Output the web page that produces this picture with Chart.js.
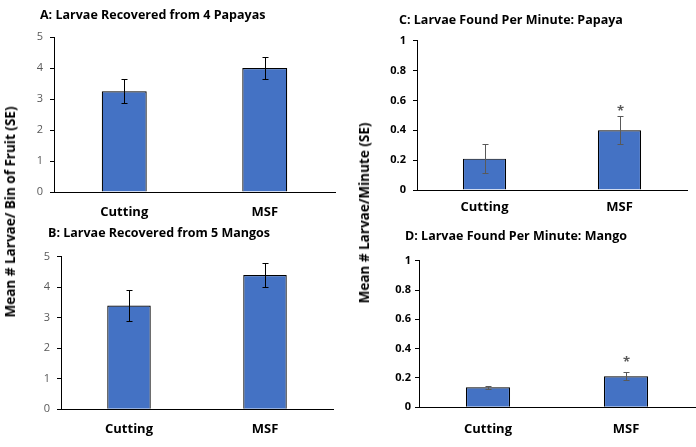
<!DOCTYPE html>
<html>
<head>
<meta charset="utf-8">
<script src="https://cdn.jsdelivr.net/npm/chart.js@4"></script>
<style>
  body { margin: 0; background: #fff; width: 696px; height: 447px; position: relative; overflow: hidden; font-family: "Open Sans", sans-serif; }
  canvas { position: absolute; }
  .ytitle { position: absolute; font-weight: bold; font-size: 13.5px; color: #000; white-space: nowrap; transform: translate(-50%, -50%) rotate(-90deg); }
</style>
</head>
<body>
<canvas id="chartA" width="348" height="222" style="left:0;top:0"></canvas>
<canvas id="chartB" width="348" height="225" style="left:0;top:222px"></canvas>
<canvas id="chartC" width="348" height="222" style="left:348px;top:0"></canvas>
<canvas id="chartD" width="348" height="225" style="left:348px;top:222px"></canvas>
<div class="ytitle" style="left:10px;top:212px">Mean # Larvae/ Bin of Fruit (SE)</div>
<div class="ytitle" style="left:364px;top:213px">Mean # Larvae/Minute (SE)</div>
<script>
// categorias y valores
const categories = ['Cutting', 'MSF'];

const papayaCounts = [3.25, 4.0];
const papayaCountsSE = [0.38, 0.37];

const mangoCounts = [3.4, 4.4];
const mangoCountsSE = [0.5, 0.4];

const papayaRate = [0.21, 0.40];
const papayaRateSE = [0.097, 0.093];
const papayaRateSig = ['', '*'];

const mangoRate = [0.136, 0.211];
const mangoRateSE = [0.012, 0.027];
const mangoRateSig = ['', '*'];

const FONT = '"Open Sans", sans-serif';

// titulo de cada panel, alineado a la izquierda
const panelTitle = {
    id: 'panelTitle',
    afterDraw(chart, args, opts) {
        const ctx = chart.ctx;
        ctx.save();
        ctx.fillStyle = '#000';
        ctx.font = 'bold 12.5px ' + FONT;
        ctx.textAlign = 'left';
        ctx.textBaseline = 'middle';
        ctx.fillText(opts.text, opts.x, opts.y);
        ctx.restore();
    }
};

// barras de error y asteriscos
const errorBars = {
    id: 'errorBars',
    afterDatasetsDraw(chart, args, opts) {
        const ctx = chart.ctx;
        const y = chart.scales.y;
        const meta = chart.getDatasetMeta(0);
        ctx.save();
        ctx.strokeStyle = opts.color;
        ctx.lineWidth = 1;
        opts.values.forEach((v, i) => {
            const x = Math.round(meta.data[i].x) + 0.5;
            const top = Math.round(y.getPixelForValue(v + opts.errors[i])) + 0.5;
            const bot = Math.round(y.getPixelForValue(v - opts.errors[i])) + 0.5;
            ctx.beginPath();
            ctx.moveTo(x, top); ctx.lineTo(x, bot);
            ctx.moveTo(x - 3, top); ctx.lineTo(x + 3, top);
            ctx.moveTo(x - 3, bot); ctx.lineTo(x + 3, bot);
            ctx.stroke();
            if (opts.sig && opts.sig[i]) {
                ctx.fillStyle = opts.color;
                ctx.font = 'bold 13px ' + FONT;
                ctx.textAlign = 'center';
                ctx.textBaseline = 'middle';
                ctx.fillText(opts.sig[i], x, top - opts.sigOffset);
            }
        });
        ctx.restore();
    }
};

function crearGrafica(id, p) {
    const ctx = document.getElementById(id).getContext('2d');
    return new Chart(ctx, {
        type: 'bar',
        data: {
            labels: categories,
            datasets: [{
                data: p.values,
                backgroundColor: '#4472C4',
                borderColor: '#000',
                borderWidth: 1.2,
                barPercentage: 0.32,
                categoryPercentage: 1
            }]
        },
        options: {
            responsive: false,
            animation: false,
            layout: { padding: { left: p.padLeft, right: p.padRight, top: p.padTop, bottom: 0 } },
            plugins: {
                legend: { display: false },
                tooltip: { enabled: false },
                title: { display: false },
                panelTitle: { text: p.title, x: p.titleX, y: p.titleY },
                errorBars: { values: p.values, errors: p.errors, color: p.errColor, sig: p.sig, sigOffset: p.sigOffset || 0 }
            },
            scales: {
                x: {
                    grid: { display: false, drawTicks: false },
                    border: { display: true, color: '#000', width: 1 },
                    ticks: { color: '#000', padding: p.xPad, font: { family: FONT, size: 13, weight: 'bold' } },
                    afterFit: s => { s.height = p.xHeight; }
                },
                y: {
                    min: 0,
                    max: p.yMax,
                    grid: { display: true, drawOnChartArea: false, drawTicks: true, tickLength: 4, color: '#000' },
                    border: { display: true, color: '#000', width: 1 },
                    ticks: {
                        stepSize: p.yStep,
                        padding: p.yPad,
                        color: p.tickColor,
                        font: { family: FONT, size: 11, weight: p.tickWeight },
                        callback: v => String(Number(v.toFixed(2)))
                    },
                    afterFit: s => { s.width = p.yWidth; }
                }
            }
        },
        plugins: [errorBars, panelTitle]
    });
}

crearGrafica('chartA', {
    title: 'A: Larvae Recovered from 4 Papayas', titleX: 40, titleY: 15,
    values: papayaCounts, errors: papayaCountsSE, errColor: '#000',
    yMax: 5, yStep: 1, tickColor: '#595959', tickWeight: 'normal',
    padLeft: 20, padRight: 13, padTop: 37, yWidth: 34, yPad: 7,
    xHeight: 30, xPad: 12
});

crearGrafica('chartB', {
    title: 'B: Larvae Recovered from 5 Mangos', titleX: 48, titleY: 11,
    values: mangoCounts, errors: mangoCountsSE, errColor: '#000',
    yMax: 5, yStep: 1, tickColor: '#595959', tickWeight: 'normal',
    padLeft: 20, padRight: 15, padTop: 34.7, yWidth: 41, yPad: 7,
    xHeight: 37.7, xPad: 12
});

crearGrafica('chartC', {
    title: 'C: Larvae Found Per Minute: Papaya', titleX: 51, titleY: 20,
    values: papayaRate, errors: papayaRateSE, errColor: '#595959',
    sig: papayaRateSig, sigOffset: 5,
    yMax: 1, yStep: 0.2, tickColor: '#000', tickWeight: 'bold',
    padLeft: 30, padRight: 9, padTop: 40.7, yWidth: 39, yPad: 7,
    xHeight: 32, xPad: 9
});

crearGrafica('chartD', {
    title: 'D: Larvae Found Per Minute: Mango', titleX: 57, titleY: 14.7,
    values: mangoRate, errors: mangoRateSE, errColor: '#595959',
    sig: mangoRateSig, sigOffset: 10,
    yMax: 1, yStep: 0.2, tickColor: '#000', tickWeight: 'bold',
    padLeft: 30, padRight: 1, padTop: 38.7, yWidth: 41, yPad: 4,
    xHeight: 39.7, xPad: 14
});
</script>
</body>
</html>
